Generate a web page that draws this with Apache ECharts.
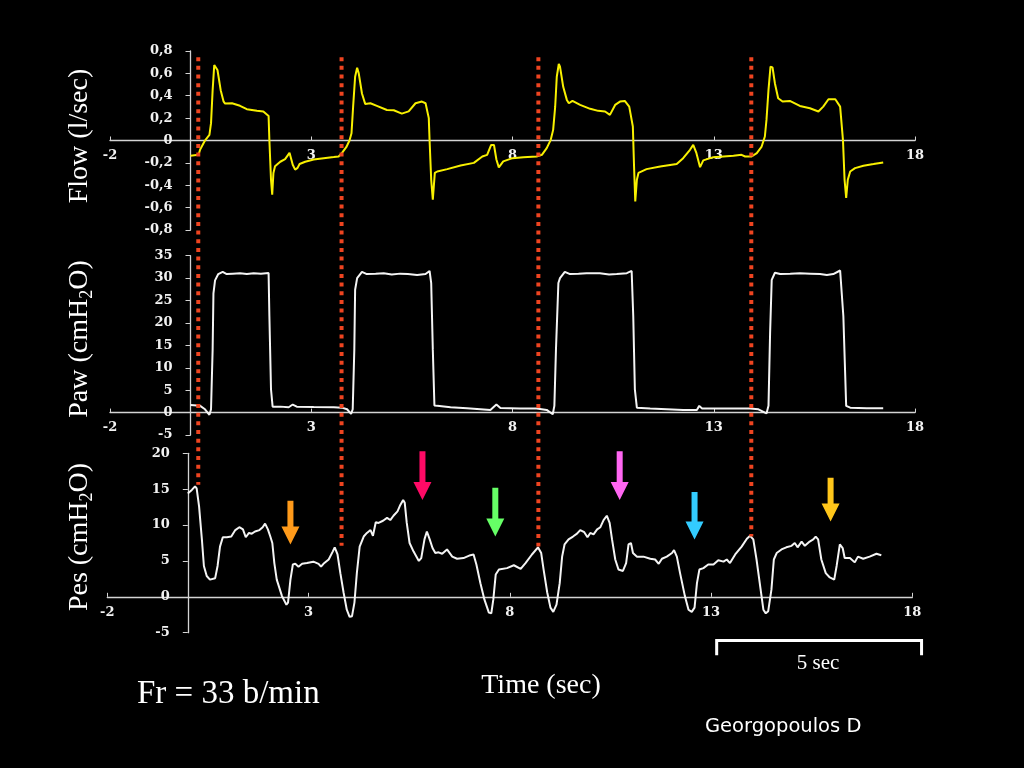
<!DOCTYPE html>
<html><head><meta charset="utf-8">
<script src="https://cdn.jsdelivr.net/npm/echarts@6/dist/echarts.min.js"></script>
<style>html,body{margin:0;padding:0;background:#000}#c{width:1024px;height:768px}</style>
</head><body><div id="c"></div>
<script>
// ---- data (time in seconds) ----
const timeRange = [-2, 18];
const timeStep = 5;
const flowRange = [-0.8, 0.8];
const pawRange = [-5, 35];
const pesRange = [-5, 20];

const flowPoints = [
[0.0,-0.137],[0.2,-0.128],[0.24,-0.08],[0.36,0.0],[0.47,0.05],[0.51,0.155],[0.55,0.45],[0.59,0.675],[0.63,0.684],[0.67,0.63],[0.75,0.45],[0.82,0.35],[0.86,0.33],[1.03,0.333],[1.23,0.31],[1.40,0.28],[1.65,0.265],[1.81,0.26],[1.94,0.22],[1.96,0.0],[2.0,-0.35],[2.03,-0.485],[2.06,-0.29],[2.10,-0.23],[2.23,-0.19],[2.35,-0.167],[2.46,-0.11],[2.49,-0.125],[2.54,-0.217],[2.60,-0.26],[2.66,-0.245],[2.71,-0.21],[2.85,-0.19],[3.06,-0.17],[3.31,-0.158],[3.56,-0.148],[3.68,-0.143],[3.76,-0.113],[3.87,-0.06],[3.95,0.0],[4.0,0.065],[4.04,0.30],[4.09,0.57],[4.14,0.65],[4.18,0.6],[4.26,0.42],[4.34,0.327],[4.47,0.333],[4.63,0.31],[4.88,0.273],[5.05,0.27],[5.25,0.24],[5.42,0.26],[5.59,0.333],[5.75,0.348],[5.84,0.333],[5.92,0.2],[5.94,0.0],[5.98,-0.35],[6.02,-0.53],[6.07,-0.29],[6.13,-0.277],[6.38,-0.256],[6.71,-0.223],[7.04,-0.2],[7.25,-0.143],[7.37,-0.128],[7.47,-0.04],[7.54,-0.04],[7.60,-0.17],[7.66,-0.24],[7.77,-0.187],[8.0,-0.158],[8.27,-0.149],[8.60,-0.143],[8.73,-0.128],[8.85,-0.068],[8.95,0.006],[9.01,0.095],[9.06,0.30],[9.10,0.57],[9.15,0.684],[9.18,0.66],[9.26,0.48],[9.35,0.363],[9.40,0.333],[9.49,0.354],[9.68,0.318],[9.93,0.283],[10.13,0.265],[10.30,0.259],[10.42,0.229],[10.55,0.318],[10.67,0.348],[10.79,0.354],[10.90,0.303],[10.99,0.125],[11.02,-0.232],[11.05,-0.544],[11.09,-0.35],[11.13,-0.29],[11.33,-0.256],[11.67,-0.232],[12.08,-0.211],[12.24,-0.158],[12.41,-0.083],[12.49,-0.039],[12.57,-0.113],[12.66,-0.238],[12.74,-0.178],[12.99,-0.149],[13.49,-0.137],[13.69,-0.128],[13.78,-0.143],[13.94,-0.143],[14.07,-0.113],[14.19,-0.054],[14.27,0.036],[14.31,0.184],[14.36,0.452],[14.41,0.66],[14.46,0.654],[14.52,0.51],[14.60,0.378],[14.71,0.348],[14.89,0.354],[15.14,0.309],[15.39,0.288],[15.60,0.259],[15.72,0.303],[15.85,0.369],[16.02,0.369],[16.14,0.303],[16.21,0.006],[16.25,-0.351],[16.29,-0.514],[16.33,-0.351],[16.39,-0.277],[16.51,-0.247],[16.72,-0.226],[16.97,-0.211],[17.21,-0.196]
];

const pawPoints = [
[0.0,1.7],[0.24,1.5],[0.36,0.74],[0.47,-0.5],[0.51,0.74],[0.55,14.1],[0.57,26.6],[0.61,29.5],[0.69,30.9],[0.80,31.4],[0.90,30.9],[1.05,31.0],[1.23,31.1],[1.40,30.9],[1.57,31.1],[1.75,31.0],[1.94,31.15],[1.96,21.5],[2.0,5.2],[2.04,1.33],[2.23,1.33],[2.44,1.2],[2.54,1.8],[2.64,1.33],[3.06,1.26],[3.56,1.2],[3.76,1.1],[3.89,0.74],[3.99,-0.3],[4.03,0.74],[4.07,14.1],[4.09,27.4],[4.14,30],[4.26,31.4],[4.38,30.9],[4.60,31.0],[4.80,31.1],[5.00,30.8],[5.21,31.0],[5.40,30.9],[5.63,30.7],[5.84,30.9],[5.94,31.6],[5.98,28.9],[6.02,14.1],[6.06,1.6],[6.13,1.5],[6.46,1.2],[6.87,0.96],[7.45,0.6],[7.60,1.8],[7.70,1.04],[8.19,0.9],[8.60,0.9],[8.85,0.6],[9.0,-0.37],[9.04,1.5],[9.08,14.1],[9.14,28.9],[9.18,30],[9.30,31.4],[9.43,30.9],[9.64,31.0],[9.84,31.1],[10.17,31.1],[10.40,30.8],[10.59,30.9],[10.84,31.1],[10.96,31.6],[11.0,21.5],[11.04,5.2],[11.09,1.1],[11.42,0.9],[12.24,0.6],[12.58,0.6],[12.64,1.5],[12.71,0.9],[13.49,0.9],[13.90,0.9],[14.11,0.74],[14.31,-0.2],[14.36,1.5],[14.40,17.8],[14.44,29.6],[14.52,31.2],[14.65,30.9],[14.90,31.0],[15.14,31.1],[15.40,31.0],[15.64,30.9],[15.81,30.7],[15.97,30.9],[16.14,31.7],[16.22,21.5],[16.29,1.5],[16.39,1.1],[16.80,0.96],[17.21,0.96]
];

const pesPoints = [
[0.0,14.4],[0.10,14.9],[0.18,15.4],[0.22,15.1],[0.28,12.6],[0.35,8.0],[0.40,4.3],[0.47,2.9],[0.55,2.4],[0.68,2.6],[0.74,4.3],[0.80,7.0],[0.87,8.3],[0.97,8.3],[1.08,8.4],[1.18,9.3],[1.28,9.7],[1.37,9.4],[1.44,8.3],[1.52,8.9],[1.59,8.8],[1.67,9.1],[1.78,9.3],[1.86,9.7],[1.92,10.2],[1.99,9.4],[2.05,8.4],[2.10,7.5],[2.15,4.7],[2.21,2.4],[2.34,0.1],[2.45,-1.1],[2.49,-0.8],[2.55,2.4],[2.61,4.5],[2.67,4.6],[2.75,4.2],[2.84,4.6],[2.96,4.7],[3.12,4.9],[3.25,4.6],[3.31,4.2],[3.37,4.6],[3.50,5.2],[3.60,6.3],[3.65,6.9],[3.72,5.9],[3.79,3.3],[3.87,0.6],[3.95,-1.8],[4.02,-2.8],[4.08,-2.7],[4.14,-0.8],[4.20,3.3],[4.27,7.0],[4.37,8.4],[4.45,8.9],[4.54,9.3],[4.60,8.5],[4.67,10.4],[4.74,10.3],[4.85,10.6],[4.95,11.0],[5.03,10.7],[5.11,11.3],[5.21,11.9],[5.28,12.8],[5.35,13.5],[5.39,13.1],[5.44,10.3],[5.51,7.5],[5.61,6.3],[5.74,5.0],[5.80,5.4],[5.88,8.0],[5.94,9.1],[6.01,8.0],[6.08,6.8],[6.15,6.1],[6.23,6.2],[6.32,6.0],[6.44,6.6],[6.57,5.6],[6.69,5.3],[6.85,5.4],[7.02,5.8],[7.10,5.9],[7.17,4.5],[7.27,1.9],[7.37,-0.4],[7.48,-2.2],[7.54,-2.3],[7.59,-0.4],[7.65,3.1],[7.73,3.8],[7.93,4.0],[8.10,4.4],[8.27,3.9],[8.39,4.7],[8.55,5.9],[8.70,6.9],[8.78,6.1],[8.84,3.8],[8.93,0.6],[9.01,-1.5],[9.08,-2.1],[9.16,-1.1],[9.24,1.9],[9.30,5.6],[9.36,7.3],[9.46,8.0],[9.57,8.4],[9.67,8.8],[9.75,9.3],[9.85,9.0],[9.93,8.3],[10.0,8.9],[10.08,8.7],[10.17,9.4],[10.25,9.7],[10.33,10.7],[10.41,11.3],[10.48,10.3],[10.54,8.0],[10.62,5.2],[10.70,3.8],[10.81,3.6],[10.89,4.7],[10.95,7.3],[11.01,7.5],[11.06,6.1],[11.16,5.6],[11.32,5.6],[11.49,5.3],[11.61,5.2],[11.70,4.6],[11.78,5.3],[11.90,5.6],[12.03,6.1],[12.08,6.5],[12.15,5.6],[12.23,3.3],[12.35,0.1],[12.44,-1.8],[12.52,-2.1],[12.59,-1.5],[12.65,1.9],[12.71,3.8],[12.81,4.0],[12.93,4.5],[13.06,4.5],[13.18,5.1],[13.31,4.9],[13.39,5.2],[13.47,4.7],[13.60,5.9],[13.76,7.0],[13.89,8.1],[13.97,8.5],[14.05,8.0],[14.13,5.2],[14.22,1.5],[14.30,-1.8],[14.36,-2.3],[14.42,-2.0],[14.50,1.0],[14.56,5.2],[14.63,6.1],[14.75,6.6],[14.87,6.9],[15.00,7.1],[15.08,7.5],[15.15,6.9],[15.25,7.7],[15.33,7.1],[15.45,7.7],[15.54,8.0],[15.60,8.4],[15.66,8.0],[15.74,5.2],[15.85,3.3],[15.95,2.7],[16.06,2.4],[16.12,4.3],[16.20,7.3],[16.27,6.8],[16.32,5.4],[16.45,5.4],[16.57,4.8],[16.65,5.6],[16.78,5.3],[16.94,5.6],[17.11,6.0],[17.23,5.8]
];

// breath-onset markers (time, Pes value where the dotted line stops), drawn in Pes units
const markerTimes = [0.26, 3.82, 8.71, 14.0];
const markerEnds = [15.6, 7.1, 7.0, 8.4];
const markerTop = 75.2;

// arrows in the Pes panel: time, top value, tip value
const arrowTimes = [2.55, 5.83, 7.64, 10.73, 12.59, 15.97];
const arrowTops = [13.4, 20.3, 15.2, 20.3, 14.6, 16.6];
const arrowTips = [7.3, 13.5, 8.4, 13.5, 8.0, 10.5];
const arrowColors = ['#ff9a1a', '#ff0a66', '#66ff66', '#ff66f2', '#33ccff', '#ffc61a'];

// 5-second scale bar (Pes units): start/end time, bar level, leg level
const scaleBarX = [13.14, 18.23];
const scaleBarY = [-6.07, -8.15];

// ---- chart ----
const grids = [
  { left: 110, right: 109, top: 51, height: 179 },
  { left: 110, right: 109, top: 255.7, height: 179.3 },
  { left: 107.3, right: 111.7, top: 453.3, height: 179.4 }
];
const yRanges = [flowRange, pawRange, pesRange];

const axisColor = '#d4d4d4';
const labelFont = { color: '#f2f2f2', fontFamily: 'DejaVu Serif', fontWeight: 'bold', fontSize: 13 };
const flowFmt = v => Math.abs(v) < 1e-9 ? '0' : v.toFixed(1).replace('.', ',');

function gridWidth(g) { return 1024 - g.left - g.right; }

function xAxisFor(i) {
  const r = yRanges[i], g = grids[i];
  // put the time axis on the zero line of the panel
  const off = -g.height * (0 - r[0]) / (r[1] - r[0]);
  return {
    type: 'value', gridIndex: i, min: timeRange[0], max: timeRange[1], interval: timeStep,
    position: 'bottom', offset: off,
    axisLine: { show: true, onZero: false, lineStyle: { color: axisColor, width: 1.3 } },
    axisTick: { show: true, inside: true, length: 4, lineStyle: { color: axisColor } },
    axisLabel: Object.assign({ margin: 9, showMinLabel: true, showMaxLabel: true }, labelFont),
    splitLine: { show: false }
  };
}
function yAxisFor(i, interval, fmt) {
  const r = yRanges[i], g = grids[i];
  // put the value axis at time zero
  const off = -gridWidth(g) * (0 - timeRange[0]) / (timeRange[1] - timeRange[0]);
  return {
    type: 'value', gridIndex: i, min: r[0], max: r[1], interval: interval,
    position: 'left', offset: off,
    axisLine: { show: true, onZero: false, lineStyle: { color: axisColor, width: 1.3 } },
    axisTick: { show: true, length: 5, lineStyle: { color: axisColor } },
    axisLabel: Object.assign({ margin: 18, formatter: fmt, showMinLabel: true, showMaxLabel: true }, labelFont),
    splitLine: { show: false }
  };
}

const series = [
  { type: 'line', xAxisIndex: 0, yAxisIndex: 0, data: flowPoints, showSymbol: false, lineStyle: { color: '#f8f000', width: 2 }, z: 3 },
  { type: 'line', xAxisIndex: 1, yAxisIndex: 1, data: pawPoints, showSymbol: false, lineStyle: { color: '#f4f4f4', width: 2 }, z: 3 },
  { type: 'line', xAxisIndex: 2, yAxisIndex: 2, data: pesPoints, showSymbol: false, lineStyle: { color: '#f4f4f4', width: 2 }, z: 3 }
];
markerTimes.forEach((t, k) => {
  series.push({
    type: 'line', xAxisIndex: 2, yAxisIndex: 2, clip: false, showSymbol: false, z: 5,
    data: [[t, markerTop], [t, markerEnds[k]]],
    lineStyle: { color: '#ee4420', width: 4, type: [4, 4.67], cap: 'butt' }
  });
});
series.push({
  type: 'custom', xAxisIndex: 2, yAxisIndex: 2, z: 5, clip: false,
  data: [[scaleBarX[0], scaleBarX[1], scaleBarY[0], scaleBarY[1]]],
  renderItem: function (params, api) {
    const a = api.coord([api.value(0), api.value(2)]);
    const b = api.coord([api.value(1), api.value(2)]);
    const leg = api.coord([api.value(0), api.value(3)])[1];
    return {
      type: 'polyline',
      shape: { points: [[a[0], leg], [a[0], a[1]], [b[0], b[1]], [b[0], leg]] },
      style: { stroke: '#ffffff', lineWidth: 3, fill: null, lineJoin: 'miter' }
    };
  }
});
series.push({
  type: 'custom', xAxisIndex: 2, yAxisIndex: 2, z: 6, clip: false,
  data: arrowTimes.map((t, k) => ({ value: [t, arrowTops[k], arrowTips[k]], itemStyle: { color: arrowColors[k] } })),
  renderItem: function (params, api) {
    const p0 = api.coord([api.value(0), api.value(1)]);
    const p1 = api.coord([api.value(0), api.value(2)]);
    const cx = p0[0], y0 = p0[1], y1 = p1[1], hb = y1 - 18;
    return {
      type: 'polygon',
      shape: { points: [[cx - 3, y0], [cx + 3, y0], [cx + 3, hb], [cx + 9, hb], [cx, y1], [cx - 9, hb], [cx - 3, hb]] },
      style: { fill: api.visual('color') }
    };
  }
});

const titleRich = {
  m: { fill: '#ffffff', fontSize: 28, fontFamily: 'Liberation Serif', lineHeight: 32, verticalAlign: 'middle' },
  s: { fill: '#ffffff', fontSize: 18, fontFamily: 'Liberation Serif', lineHeight: 14, verticalAlign: 'bottom' }
};

const option = {
  backgroundColor: '#000000',
  animation: false,
  grid: grids,
  xAxis: [xAxisFor(0), xAxisFor(1), xAxisFor(2)],
  yAxis: [yAxisFor(0, 0.2, flowFmt), yAxisFor(1, 5), yAxisFor(2, 5)],
  series: series,
  graphic: [
    { type: 'text', x: 80, y: 136, rotation: Math.PI / 2, style: { text: '{m|Flow (l/sec)}', rich: titleRich, align: 'center', verticalAlign: 'middle' } },
    { type: 'text', x: 80, y: 339, rotation: Math.PI / 2, style: { text: '{m|Paw (cmH}{s|2}{m|O)}', rich: titleRich, align: 'center', verticalAlign: 'middle' } },
    { type: 'text', x: 80, y: 537, rotation: Math.PI / 2, style: { text: '{m|Pes (cmH}{s|2}{m|O)}', rich: titleRich, align: 'center', verticalAlign: 'middle' } },
    { type: 'text', x: 137, y: 694, style: { text: 'Fr = 33 b/min', fill: '#ffffff', fontSize: 33, fontFamily: 'Liberation Serif', align: 'left', verticalAlign: 'middle' } },
    { type: 'text', x: 541, y: 686, style: { text: 'Time (sec)', fill: '#ffffff', fontSize: 28, fontFamily: 'Liberation Serif', align: 'center', verticalAlign: 'middle' } },
    { type: 'text', x: 818, y: 663, style: { text: '5 sec', fill: '#ffffff', fontSize: 21, fontFamily: 'Liberation Serif', align: 'center', verticalAlign: 'middle' } },
    { type: 'text', x: 705, y: 727, style: { text: 'Georgopoulos D', fill: '#ffffff', fontSize: 19.5, fontFamily: 'DejaVu Sans', align: 'left', verticalAlign: 'middle' } }
  ]
};

const chart = echarts.init(document.getElementById('c'), null, { renderer: 'canvas' });
chart.setOption(option);
</script>
</body></html>
